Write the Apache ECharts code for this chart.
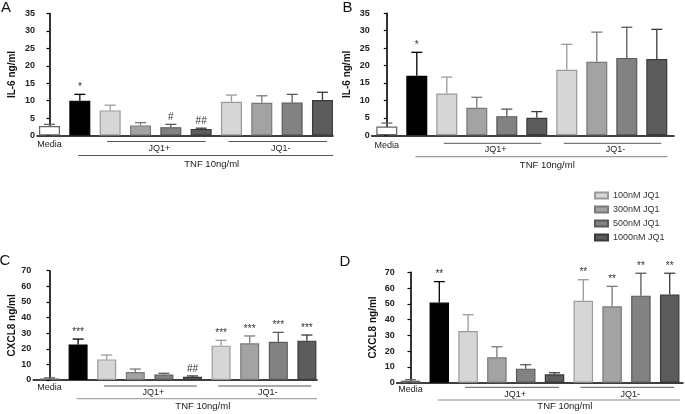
<!DOCTYPE html>
<html><head><meta charset="utf-8">
<script src="https://cdn.jsdelivr.net/npm/echarts@6/dist/echarts.min.js"></script>
<style>html,body{margin:0;padding:0;background:#fff}#c{width:685px;height:414px}</style>
</head><body><div id="c"></div>
<script>
// ---------------- DATA ----------------
const categories = ['Media','TNF','100nM JQ1','300nM JQ1','500nM JQ1','1000nM JQ1','100nM JQ1','300nM JQ1','500nM JQ1','1000nM JQ1'];
const groupNames = ['Media','TNF 10ng/ml','100nM JQ1','300nM JQ1','500nM JQ1','1000nM JQ1'];
const catGroup = [0,1,2,3,4,5,2,3,4,5];
const legendItems = ['100nM JQ1','300nM JQ1','500nM JQ1','1000nM JQ1'];
const il6Ticks = [0,5,10,15,20,25,30,35];
const cxcl8Ticks = [0,10,20,30,40,50,60,70];
const groupLabels = ['JQ1+','JQ1-','TNF 10ng/ml','Media'];

const il6A_mean = [2.7, 10.0, 7.2, 2.9, 2.4, 1.9, 9.7, 9.4, 9.5, 10.2];
const il6A_sem  = [0.5, 1.8, 1.5, 0.8, 0.8, 0.2, 1.9, 2.0, 2.3, 2.2];
const il6A_sig  = ['', '*', '', '', '#', '##', '', '', '', ''];

const il6B_mean = [2.5, 17.1, 12.0, 7.9, 5.5, 5.0, 18.8, 21.1, 22.2, 21.9];
const il6B_sem  = [1.0, 6.7, 4.7, 3.0, 2.0, 1.8, 7.3, 8.5, 8.8, 8.5];
const il6B_sig  = ['', '*', '', '', '', '', '', '', '', ''];

const cxC_mean = [1.0, 22.8, 13.2, 5.1, 3.6, 2.1, 22.0, 23.5, 24.5, 25.2];
const cxC_sem  = [0.4, 3.4, 2.8, 1.9, 0.7, 0.5, 3.4, 4.7, 6.0, 3.6];
const cxC_sig  = ['', '***', '', '', '', '##', '***', '***', '***', '***'];

const cxD_mean = [1.3, 50.8, 32.8, 16.1, 8.9, 5.3, 52.0, 48.4, 55.2, 56.0];
const cxD_sem  = [0.6, 13.3, 10.3, 6.7, 2.5, 1.0, 13.3, 12.7, 14.2, 13.4];
const cxD_sig  = ['', '**', '', '', '', '', '**', '**', '**', '**'];

// ---------------- STYLE / LAYOUT ----------------
const fills   = ['#ffffff', '#000000', '#d6d6d6', '#a3a3a3', '#828282', '#5c5c5c'];
const borders = ['#666666', '#000000', '#9a9a9a', '#7a7a7a', '#595959', '#3a3a3a'];
const FONT = 'Liberation Sans, Arial, sans-serif';

const panels = [
  {letter:'A', lx:6, ly:8, title:'IL-6 ng/ml', titleX:12.7, mean:il6A_mean, sem:il6A_sem, sig:il6A_sig, ticks:il6Ticks,
   L:{axisX:37, right:333, top:13.5, zeroY:135.5, first:49.5, spacing:30.33, barW:21,
      line:6, lbl:13, tnf:20, tnfTxt:28.5, media:9, tnfColor:'#555'}},
  {letter:'B', lx:347.5, ly:8, title:'IL-6 ng/ml', titleX:347.5, mean:il6B_mean, sem:il6B_sem, sig:il6B_sig, ticks:il6Ticks,
   L:{axisX:371.7, right:674, top:13.3, zeroY:135.3, first:386.8, spacing:30, barW:21,
      line:8, lbl:14.7, tnf:21.4, tnfTxt:29.7, media:10.4, tnfColor:'#9a9a9a'}},
  {letter:'C', lx:5, ly:261, title:'CXCL8 ng/ml', titleX:12.7, mean:cxC_mean, sem:cxC_sem, sig:cxC_sig, ticks:cxcl8Ticks,
   L:{axisX:33.3, right:317, top:270.7, zeroY:380, first:49.5, spacing:28.6, barW:19,
      line:6, lbl:12.3, tnf:18.7, tnfTxt:26.7, media:7.3, tnfColor:'#a8a8a8'}},
  {letter:'D', lx:345, ly:262, title:'CXCL8 ng/ml', titleX:373, mean:cxD_mean, sem:cxD_sem, sig:cxD_sig, ticks:cxcl8Ticks,
   L:{axisX:396.7, right:683, top:272.3, zeroY:382.7, first:410.5, spacing:28.8, barW:19.5,
      line:4.6, lbl:11.6, tnf:17.3, tnfTxt:24, media:6.6, tnfColor:'#8a8a8a'}}
];

const grids = [], xAxes = [], yAxes = [], series = [];
panels.forEach((p, pi) => {
  const L = p.L;
  grids.push({left:L.axisX, top:L.top, width:L.right - L.axisX, height:L.zeroY - L.top});
  xAxes.push({type:'value', gridIndex:pi,
    min:-(L.first - L.axisX)/L.spacing, max:(L.right - L.first)/L.spacing,
    axisLine:{show:true, lineStyle:{color:'#000', width:1.6}}, axisTick:{show:false},
    axisLabel:{show:false}, splitLine:{show:false}});
  const tk = p.ticks;
  yAxes.push({type:'value', gridIndex:pi, min:tk[0], max:tk[tk.length-1], interval:tk[1]-tk[0],
    name:p.title, nameLocation:'middle', nameRotate:90, nameGap:(L.axisX - p.titleX) - 5,
    nameTextStyle:{fontSize:10, fontWeight:'bold', color:'#111', fontFamily:FONT},
    axisLine:{show:true, lineStyle:{color:'#000', width:1.6}},
    axisTick:{show:true, length:3, lineStyle:{color:'#000', width:1.2}},
    axisLabel:{fontSize:9, fontWeight:'bold', color:'#222', margin:2, fontFamily:FONT},
    splitLine:{show:false}});
  for (let g = 0; g < 6; g++) {
    const data = [];
    p.mean.forEach((v, i) => { if (catGroup[i] === g) data.push([i, v]); });
    series.push({type:'bar', name:groupNames[g], xAxisIndex:pi, yAxisIndex:pi, data:data,
      barWidth:L.barW, barGap:'-100%',
      itemStyle:{color:fills[g], borderColor:borders[g], borderWidth:1.2}, z:2});
  }
  const ebData = p.mean.map((v, i) => [i, v, v + p.sem[i], p.sig[i], catGroup[i]]);
  series.push({type:'custom', xAxisIndex:pi, yAxisIndex:pi, data:ebData, clip:false, z:3,
    renderItem: function(params, api) {
      const i = api.value(0), m = api.value(1), t = api.value(2);
      const d = ebData[params.dataIndex];
      const col = borders[d[4]];
      const a = api.coord([i, m]), b = api.coord([i, t]);
      const hw = 5.5;
      const children = [
        {type:'line', shape:{x1:a[0], y1:a[1], x2:b[0], y2:b[1]}, style:{stroke:col, lineWidth:1.3}},
        {type:'line', shape:{x1:b[0]-hw, y1:b[1], x2:b[0]+hw, y2:b[1]}, style:{stroke:col, lineWidth:1.3}}
      ];
      if (d[3]) {
        children.push({type:'text', x:b[0], y:b[1]-2,
          style:{text:d[3], fontSize:10, fontFamily:FONT, fill:'#333', align:'center', verticalAlign:'bottom'}});
      }
      return {type:'group', children:children};
    }});
});

const chart = echarts.init(document.getElementById('c'), null, {renderer:'canvas'});
chart.setOption({
  animation:false,
  backgroundColor:'#fff',
  grid:grids, xAxis:xAxes, yAxis:yAxes, series:series,
  legend:{data:legendItems, orient:'vertical', left:589, top:186, itemWidth:13, itemHeight:6, itemGap:5,
    icon:'rect', textStyle:{fontSize:9, color:'#333', fontFamily:FONT}, selectedMode:false}
});

// group annotations built from the axes' own scales
const graphics = [];
panels.forEach((p, pi) => {
  const L = p.L;
  const px = (x) => chart.convertToPixel({gridIndex:pi}, [x, 0]);
  const zeroY = px(0)[1];
  graphics.push({type:'text', x:p.lx, y:p.ly,
    style:{text:p.letter, fontSize:15, fontFamily:FONT, fill:'#111', align:'center', verticalAlign:'middle'}});
  const spans = [[2 - 0.1, 5 + 0.15, groupLabels[0]], [6 - 0.1, 9 + 0.15, groupLabels[1]]];
  spans.forEach(s => {
    const x1 = px(s[0])[0], x2 = px(s[1])[0];
    graphics.push({type:'line', shape:{x1:x1, y1:zeroY + L.line, x2:x2, y2:zeroY + L.line},
      style:{stroke:'#555', lineWidth:1}});
    graphics.push({type:'text', x:(x1 + x2)/2 + 3, y:zeroY + L.lbl,
      style:{text:s[2], fontSize:9, fontFamily:FONT, fill:'#222', align:'center', verticalAlign:'middle'}});
  });
  const t1 = px(1 - 0.05)[0], t2 = px(9 + 0.35)[0];
  graphics.push({type:'line', shape:{x1:t1, y1:zeroY + L.tnf, x2:t2, y2:zeroY + L.tnf},
    style:{stroke:L.tnfColor, lineWidth:1.2}});
  graphics.push({type:'text', x:(t1 + t2)/2 + 6, y:zeroY + L.tnfTxt,
    style:{text:groupLabels[2], fontSize:9.5, fontFamily:FONT, fill:'#222', align:'center', verticalAlign:'middle'}});
  graphics.push({type:'text', x:px(0)[0], y:zeroY + L.media,
    style:{text:groupLabels[3], fontSize:9, fontFamily:FONT, fill:'#222', align:'center', verticalAlign:'middle'}});
});
chart.setOption({graphic:graphics});
</script>
</body></html>
